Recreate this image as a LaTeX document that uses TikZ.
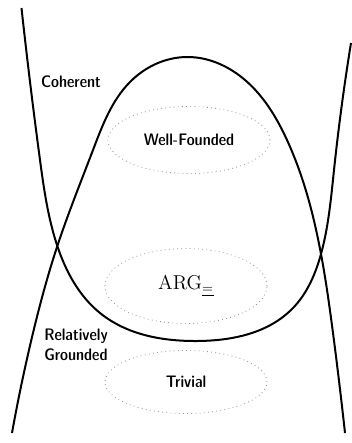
\documentclass[tikz,border=0pt]{standalone}
\usetikzlibrary{shapes.geometric,hobby}
\begin{document}
\begin{tikzpicture}[x=0.6pt,y=-0.6pt,
  region/.style={line width=1.2pt,black,use Hobby shortcut},
  txt/.style={font=\sffamily\fontseries{sbc}\selectfont},
  setbox/.style={ellipse,draw=gray!80,dotted,line width=0.5pt,txt,inner sep=0pt},
  lbl/.style={txt,align=left}]
\useasboundingbox (0,0) rectangle (351,443);
% Coherent: U-shaped curve
\draw[region] (21.5,8) .. (40,160) .. (57,245) .. (100,313) .. (197,341) .. (293,308) .. (321,254) .. (334,170) .. (351,43);
% Relatively Grounded: bell-shaped curve
\draw[region] (12,433) .. (33,333) .. (57,247) .. (93,150) .. (130,82) .. (187,57) .. (245,80) .. (287,140) .. (321,254) .. (333,333) .. (345,433);
\node[setbox,minimum width=97.2pt,minimum height=40.2pt] (wf) at (189,140) {Well-Founded};
\node[setbox,minimum width=97.2pt,minimum height=45pt,font=\large] (arg) at (186,286) {$\mathrm{ARG}_{\underline{=}}$};
\node[setbox,minimum width=97.2pt,minimum height=37.8pt] (triv) at (186,382) {Trivial};
\node[lbl] (coh) at (71,82) {Coherent};
\node[lbl] (rg) at (76,345) {Relatively\\Grounded};
\end{tikzpicture}
\end{document}
